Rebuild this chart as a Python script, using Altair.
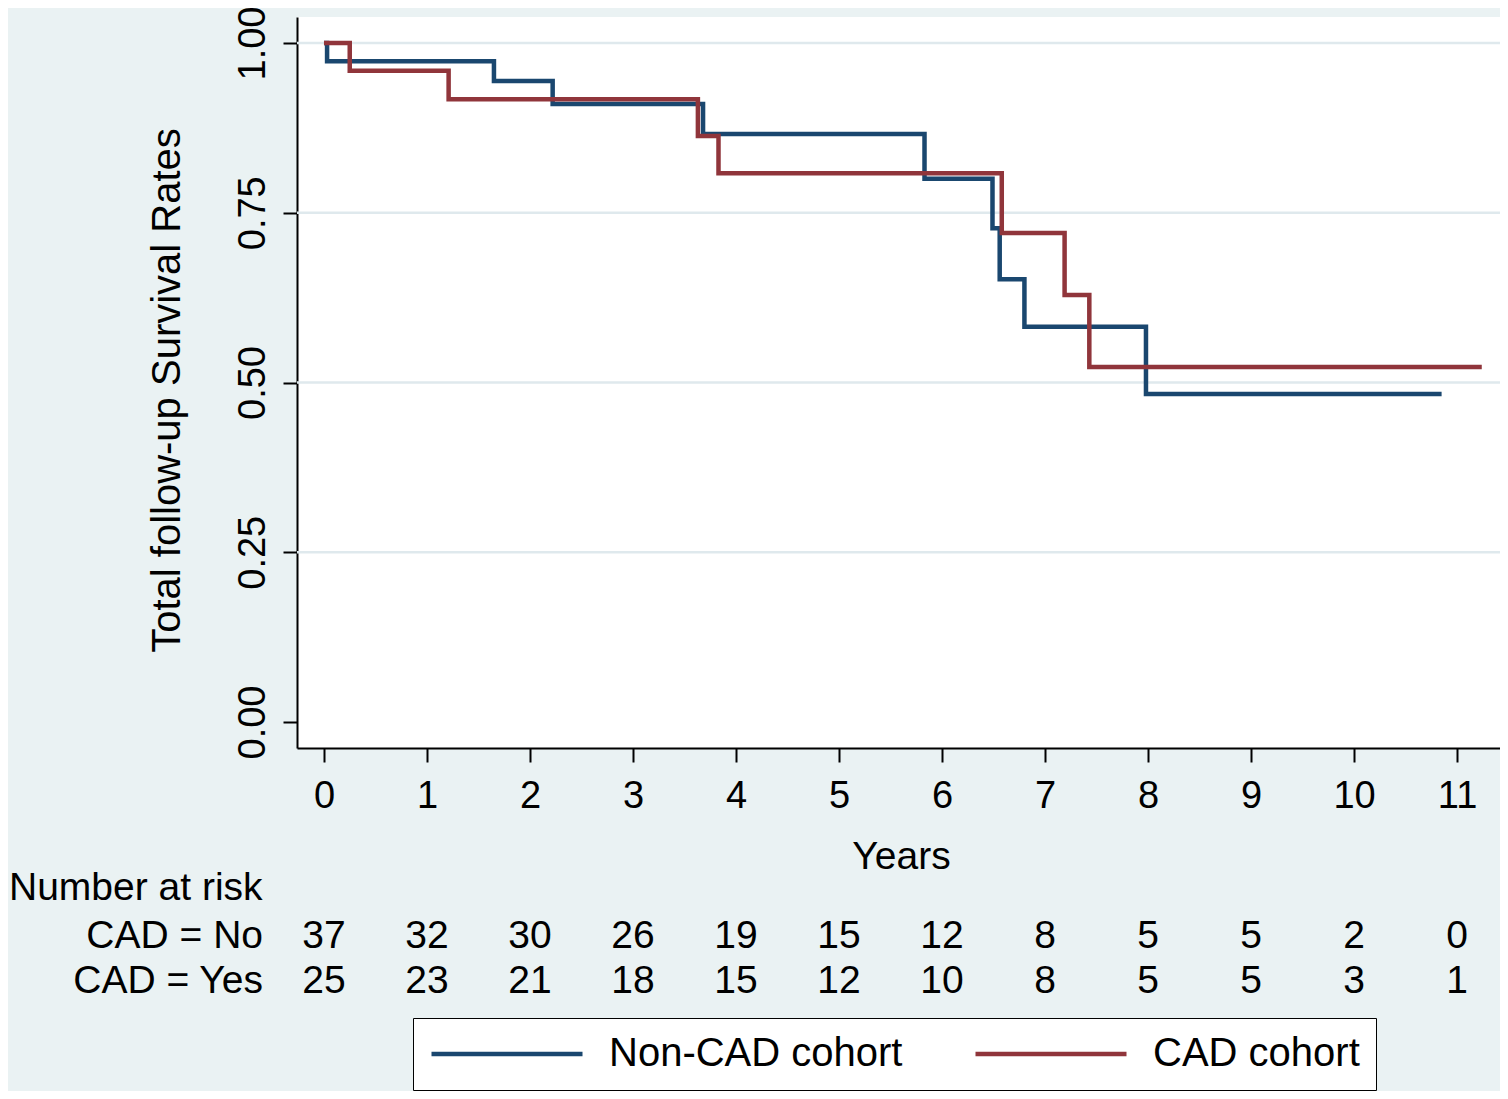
import altair as alt
import pandas as pd

# ---- data ----
series = ["Non-CAD cohort", "CAD cohort"]
colors = ["#1a476f", "#90353b"]

noncad_time = [0, 0.03, 1.65, 2.22, 3.68, 5.83, 6.49, 6.56, 6.80, 7.98, 10.85]
noncad_surv = [1.0, 0.973, 0.944, 0.910, 0.866, 0.800, 0.727, 0.652, 0.582, 0.483, 0.483]
cad_time = [0, 0.25, 1.21, 3.63, 3.83, 6.58, 7.19, 7.43, 11.24]
cad_surv = [1.0, 0.959, 0.917, 0.863, 0.808, 0.720, 0.629, 0.523, 0.523]

years = list(range(12))
risk_no = [37, 32, 30, 26, 19, 15, 12, 8, 5, 5, 2, 0]
risk_yes = [25, 23, 21, 18, 15, 12, 10, 8, 5, 5, 3, 1]
risk_header = ["Number at risk"]
row_labels = ["CAD = No", "CAD = Yes"]

y_ticks = [0, 0.25, 0.5, 0.75, 1.0]
grid_vals = [0.25, 0.5, 0.75, 1.0]

FONT = "Liberation Sans"

km = pd.concat([
    pd.DataFrame({"t": noncad_time, "s": noncad_surv, "g": series[0]}),
    pd.DataFrame({"t": cad_time, "s": cad_surv, "g": series[1]}),
], ignore_index=True)
km["o"] = range(len(km))

risk_df = pd.DataFrame({"year": years, "no": risk_no, "yes": risk_yes})
grid_df = pd.DataFrame({"s": grid_vals})

x_scale = alt.Scale(domain=[-0.262, 11.417], nice=False, zero=False)
y_scale = alt.Scale(domain=[-0.0383, 1.0383], nice=False, zero=False)

x_axis = alt.Axis(
    values=years, format="d", grid=False,
    labelFontSize=38, labelPadding=15, labelBaseline="top",
    tickSize=14, tickWidth=2, tickColor="black",
    domainColor="black", domainWidth=2, labelColor="black",
    title="Years", titleFontSize=39, titleFontWeight="normal",
    titleColor="black", titleX=604, titleY=89, titleBaseline="top",
    titleAlign="center",
)
y_axis = alt.Axis(
    values=y_ticks, format=".2f", grid=False,
    labelFontSize=38, labelAngle=270, labelAlign="center",
    labelBaseline="alphabetic", labelPadding=19, labelColor="black",
    tickSize=14, tickWidth=2, tickColor="black",
    domainColor="black", domainWidth=2,
    title="Total follow-up Survival Rates", titleFontSize=40,
    titleFontWeight="normal", titleColor="black", titleAngle=270,
    titleX=-118, titleY=373, titleAlign="center", titleBaseline="alphabetic",
)

grid = alt.Chart(grid_df).mark_rule(color="#dfe9ed", strokeWidth=2.5).encode(
    y=alt.Y("s:Q", scale=y_scale, axis=y_axis, title="Total follow-up Survival Rates")
)

lines = alt.Chart(km).mark_line(interpolate="step-after", strokeWidth=4.5).encode(
    x=alt.X("t:Q", scale=x_scale, axis=x_axis),
    y=alt.Y("s:Q", scale=y_scale, axis=y_axis),
    color=alt.Color(
        "g:N",
        scale=alt.Scale(domain=series, range=colors),
        sort=series,
        legend=alt.Legend(
            title=None, orient="none", legendX=116, legendY=1001,
            direction="horizontal", symbolType="stroke",
            symbolSize=151 * 151, symbolStrokeWidth=4.5,
            labelFontSize=40, labelFont=FONT, labelColor="black",
            labelLimit=0, labelOffset=24, columnPadding=70, padding=16,
            clipHeight=40, fillColor="white", strokeColor="black",
        ),
    ),
    order=alt.Order("o:Q"),
)

txt = dict(font=FONT, fontSize=39, color="black", baseline="alphabetic")

row_no = alt.Chart(risk_df).mark_text(align="center", **txt).encode(
    x=alt.X("year:Q", scale=x_scale), y=alt.value(931), text="no:Q"
)
row_yes = alt.Chart(risk_df).mark_text(align="center", **txt).encode(
    x=alt.X("year:Q", scale=x_scale), y=alt.value(976), text="yes:Q"
)

lab_head = alt.Chart(pd.DataFrame({"lab": risk_header})).mark_text(align="left", **txt).encode(
    x=alt.value(-288), y=alt.value(883), text="lab:N"
)
lab_no = alt.Chart(pd.DataFrame({"lab": row_labels[:1]})).mark_text(align="right", **txt).encode(
    x=alt.value(-34), y=alt.value(931), text="lab:N"
)
lab_yes = alt.Chart(pd.DataFrame({"lab": row_labels[1:]})).mark_text(align="right", **txt).encode(
    x=alt.value(-34), y=alt.value(976), text="lab:N"
)

chart = alt.layer(grid, lines, row_no, row_yes, lab_head, lab_no, lab_yes).properties(
    width=1203, height=731,
    autosize=alt.AutoSizeParams(type="none"),
    padding={"left": 289, "top": 9, "right": 0, "bottom": 343},
    background="#eaf2f3",
).configure(font=FONT).configure_view(fill="white", strokeWidth=0)

chart.save("out.html", embed_options={"renderer": "svg", "actions": False})
